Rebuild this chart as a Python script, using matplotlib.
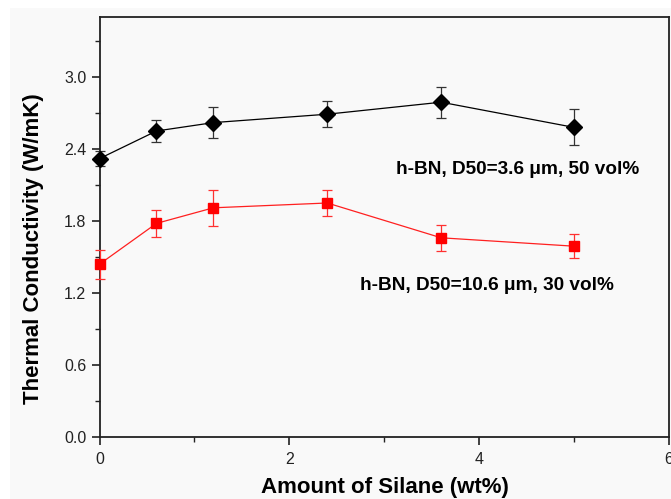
import matplotlib
matplotlib.use("Agg")
import matplotlib.pyplot as plt
from matplotlib.patches import Rectangle
from matplotlib.ticker import MultipleLocator, FormatStrFormatter

plt.rcParams['font.family'] = ['Liberation Sans', 'DejaVu Sans']

# Silane loading (wt%)
silane = [0, 0.6, 1.2, 2.4, 3.6, 5.0]

# h-BN, D50 = 3.6 um, 50 vol%
tc_small = [2.32, 2.55, 2.62, 2.69, 2.79, 2.58]
err_small = [0.06, 0.09, 0.13, 0.11, 0.13, 0.15]

# h-BN, D50 = 10.6 um, 30 vol%
tc_large = [1.44, 1.78, 1.91, 1.95, 1.66, 1.59]
err_large = [0.12, 0.11, 0.15, 0.11, 0.11, 0.10]

label_small = "h-BN, D50=3.6 \u03bcm, 50 vol%"
label_large = "h-BN, D50=10.6 \u03bcm, 30 vol%"

W, H = 671, 499
fig = plt.figure(figsize=(W / 100, H / 100), dpi=100, facecolor='white')
fig.patches.append(Rectangle((10 / W, 0), 1, 1 - 8 / H, transform=fig.transFigure,
                             facecolor='#f9f9f9', edgecolor='none', zorder=-10))

ax = fig.add_axes([99.5 / W, (H - 437) / H, (669 - 99.5) / W, (437 - 17) / H])
ax.set_facecolor('#f9f9f9')

ax.errorbar(silane, tc_small, yerr=err_small, color='black', lw=0.9,
            marker='D', ms=8.5, mfc='black', mec='black',
            ecolor='#333333', elinewidth=0.9, capsize=3.5, capthick=0.9,
            clip_on=False, zorder=3)
ax.errorbar(silane, tc_large, yerr=err_large, color='#ff2020', lw=0.9,
            marker='s', ms=7, mfc='#ff0000', mec='#ff0000',
            ecolor='#ff3030', elinewidth=0.9, capsize=3.5, capthick=0.9,
            clip_on=False, zorder=3)

ax.set_xlim(0, 6)
ax.set_ylim(0, 3.5)

# Series annotations placed in figure pixels (origin at top-left)
ax.text(396, H - 169, label_small, transform=None, fontsize=13.7,
        fontweight='bold', ha='left', va='center')
ax.text(360, H - 286, label_large, transform=None, fontsize=13.7,
        fontweight='bold', ha='left', va='center')

ax.xaxis.set_major_locator(MultipleLocator(2))
ax.xaxis.set_minor_locator(MultipleLocator(1))
ax.yaxis.set_major_locator(MultipleLocator(0.6))
ax.yaxis.set_minor_locator(MultipleLocator(0.3))
ax.yaxis.set_major_formatter(FormatStrFormatter('%.1f'))

ax.tick_params(which='major', direction='out', length=6, width=1.2,
               labelsize=11.5, colors='#222222')
ax.tick_params(axis='y', which='major', pad=3.5)
ax.tick_params(axis='x', which='major', pad=5)
ax.tick_params(which='minor', direction='out', length=3.5, width=1.0,
               colors='#222222')
ax.tick_params(top=False, right=False)

for s in ax.spines.values():
    s.set_linewidth(1.3)
    s.set_color('#222222')

ax.set_ylabel("Thermal Conductivity (W/mK)", fontsize=16, fontweight='bold')
ax.yaxis.set_label_coords((33 - 99.5) / 569.5, (437 - 249) / 420)
ax.yaxis.label.set_verticalalignment('center')

ax.set_xlabel("Amount of Silane (wt%)", fontsize=16, fontweight='bold')
ax.xaxis.set_label_coords((384.5 - 99.5) / 569.5, (437 - 493) / 420)
ax.xaxis.label.set_verticalalignment('baseline')

fig.savefig("out.png", dpi=100, facecolor=fig.get_facecolor())
